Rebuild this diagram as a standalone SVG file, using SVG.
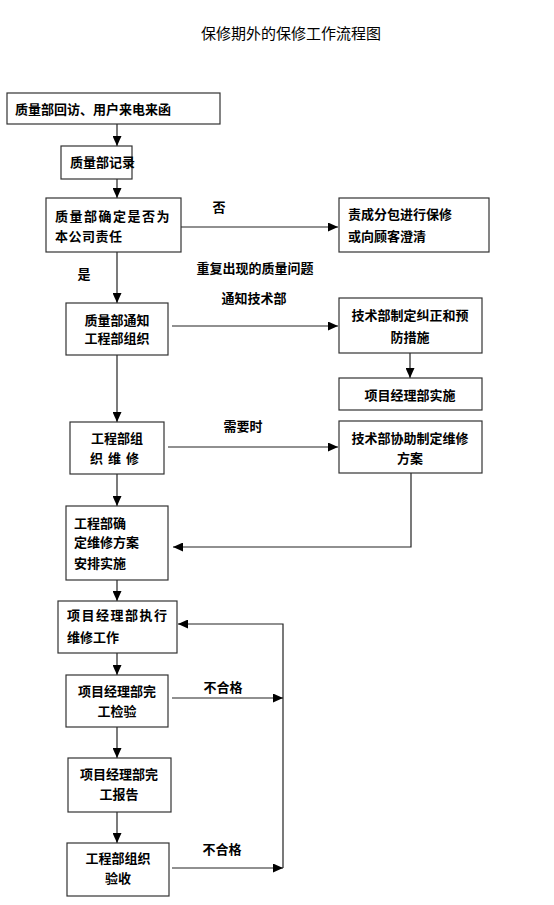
<svg xmlns="http://www.w3.org/2000/svg" width="554" height="905" viewBox="0 0 554 905">
<defs>
<marker id="ah" markerUnits="userSpaceOnUse" markerWidth="10" markerHeight="9" refX="10" refY="4.5" orient="auto">
<path d="M0,0 L10,4.5 L0,9 z" fill="#000"/>
</marker>
<style>
.b{fill:#fff;stroke:#333;stroke-width:1.2}
.t{font-family:"Liberation Sans","Noto Sans CJK SC",sans-serif;font-size:13px;font-weight:bold;fill:#000;dominant-baseline:central}
.c{text-anchor:middle}
.ln{fill:none;stroke:#222;stroke-width:1.2}
.ar{marker-end:url(#ah)}
</style>
</defs>
<rect width="554" height="905" fill="#fff"/>
<text x="291" y="33" class="t c" style="font-size:15px;font-weight:normal">保修期外的保修工作流程图</text>

<g id="connectors">
<line class="ln ar" x1="117" y1="124" x2="117" y2="146"/>
<line class="ln ar" x1="117" y1="179" x2="117" y2="198"/>
<line class="ln ar" x1="181" y1="227" x2="338" y2="227"/>
<line class="ln ar" x1="117" y1="252" x2="117" y2="303"/>
<line class="ln ar" x1="172" y1="326" x2="338" y2="326"/>
<line class="ln ar" x1="410" y1="353" x2="410" y2="378"/>
<line class="ln ar" x1="117" y1="355" x2="117" y2="422"/>
<line class="ln ar" x1="168" y1="447" x2="338" y2="447"/>
<polyline class="ln ar" points="411,473 411,547 173,547"/>
<line class="ln ar" x1="117" y1="474" x2="117" y2="506"/>
<line class="ln ar" x1="117" y1="580" x2="117" y2="601"/>
<polyline class="ln ar" points="283,868 283,624 178,624"/>
<line class="ln ar" x1="117" y1="653" x2="117" y2="675"/>
<line class="ln ar" x1="172" y1="698" x2="283" y2="698"/>
<line class="ln ar" x1="117" y1="727" x2="117" y2="758"/>
<line class="ln ar" x1="117" y1="812" x2="117" y2="843"/>
<line class="ln ar" x1="172" y1="868" x2="283" y2="868"/>
<text x="219" y="207" class="t c">否</text>
<text x="84" y="274" class="t c">是</text>
<text x="255" y="268" class="t c">重复出现的质量问题</text>
<text x="254" y="298" class="t c">通知技术部</text>
<text x="243" y="426" class="t c">需要时</text>
<text x="223" y="687" class="t c">不合格</text>
<text x="222" y="849" class="t c">不合格</text>
</g>

<g id="n1"><rect class="b" x="7" y="93" width="213" height="31"/>
<text x="15" y="109" class="t">质量部回访、用户来电来函</text></g>
<g id="n2"><rect class="b" x="61" y="146" width="71" height="33"/>
<text x="70" y="162" class="t">质量部记录</text></g>
<g id="n3"><rect class="b" x="46" y="198" width="135" height="54"/>
<text x="55" y="216" class="t" letter-spacing="1.5">质量部确定是否为</text>
<text x="55" y="236" class="t" letter-spacing="0.5">本公司责任</text></g>
<g id="n4"><rect class="b" x="339" y="198" width="150" height="54"/>
<text x="348" y="214" class="t">责成分包进行保修</text>
<text x="348" y="236" class="t">或向顾客澄清</text></g>
<g id="n5"><rect class="b" x="66" y="303" width="102" height="52"/>
<text x="117" y="320" class="t c">质量部通知</text>
<text x="117" y="338" class="t c">工程部组织</text></g>
<g id="n6"><rect class="b" x="339" y="298" width="143" height="55"/>
<text x="410" y="315" class="t c">技术部制定纠正和预</text>
<text x="410" y="337" class="t c">防措施</text></g>
<g id="n7"><rect class="b" x="339" y="378" width="143" height="32"/>
<text x="410" y="395" class="t c">项目经理部实施</text></g>
<g id="n8"><rect class="b" x="70" y="422" width="94" height="52"/>
<text x="117" y="438" class="t c">工程部组</text>
<text x="117" y="458" class="t c" letter-spacing="5">织维修</text></g>
<g id="n9"><rect class="b" x="339" y="421" width="143" height="52"/>
<text x="410" y="438" class="t c">技术部协助制定维修</text>
<text x="410" y="458" class="t c">方案</text></g>
<g id="n10"><rect class="b" x="66" y="506" width="102" height="74"/>
<text x="74" y="523" class="t">工程部确</text>
<text x="74" y="542" class="t">定维修方案</text>
<text x="74" y="563" class="t">安排实施</text></g>
<g id="n11"><rect class="b" x="58" y="601" width="119" height="52"/>
<text x="67" y="615" class="t" letter-spacing="1.5">项目经理部执行</text>
<text x="67" y="637" class="t">维修工作</text></g>
<g id="n12"><rect class="b" x="66" y="675" width="102" height="52"/>
<text x="117" y="691" class="t c">项目经理部完</text>
<text x="117" y="711" class="t c">工检验</text></g>
<g id="n13"><rect class="b" x="68" y="758" width="103" height="54"/>
<text x="119" y="774" class="t c">项目经理部完</text>
<text x="119" y="794" class="t c">工报告</text></g>
<g id="n14"><rect class="b" x="67" y="843" width="102" height="53"/>
<text x="118" y="858" class="t c">工程部组织</text>
<text x="118" y="878" class="t c">验收</text></g>
</svg>
